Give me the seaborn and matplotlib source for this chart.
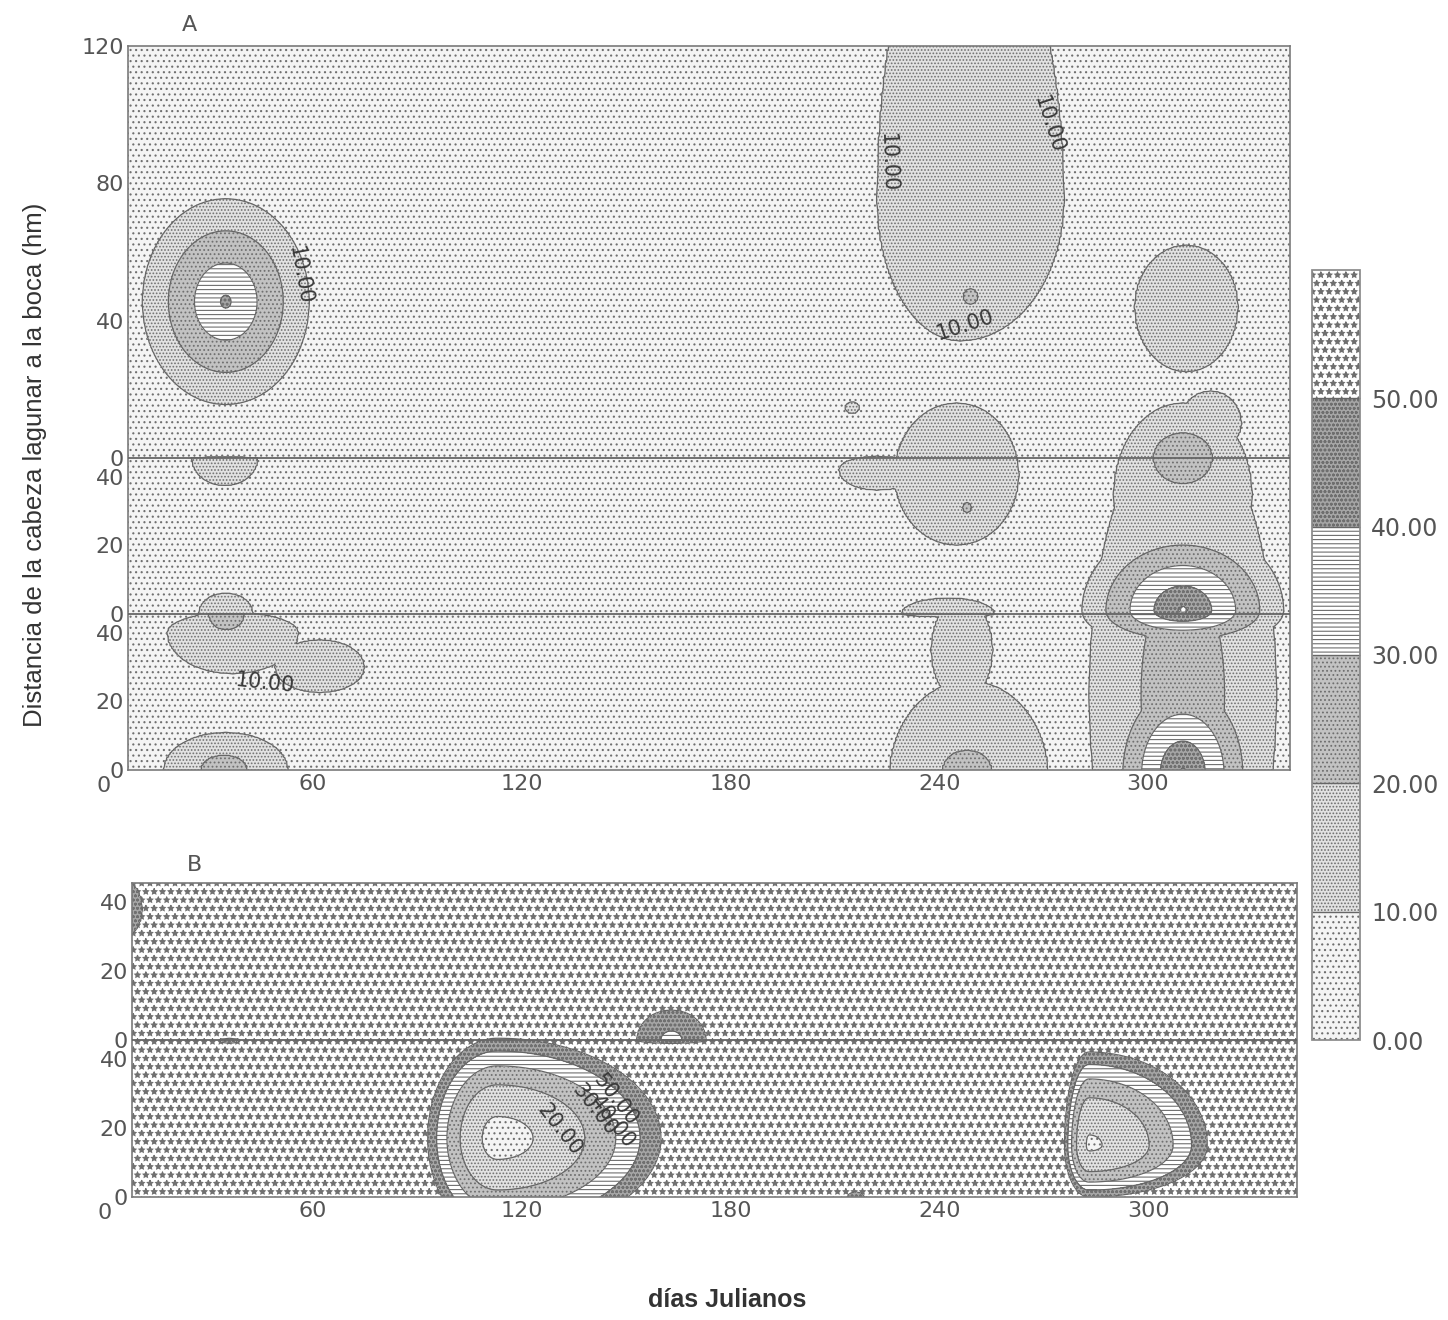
import numpy as np
import matplotlib
matplotlib.use("Agg")
import matplotlib.pyplot as plt
import seaborn as sns

# ---------------- data ----------------
levels = [0, 10, 20, 30, 40, 50, 60]
level_labels = ["0.00", "10.00", "20.00", "30.00", "40.00", "50.00"]
x_tick_days = [60, 120, 180, 240, 300]

# Panel A: three stacked layers (bottom, middle, top), extent in hm
a_layers = ["bottom", "middle", "top"]
a_depths = [45.5, 45.5, 120]
a_yticks_local = [[0, 20, 40], [0, 20, 40], [0, 40, 80, 120]]
a_background = 5

# Panel A features (local max): centre day, layer, centre hm, radii, peak value, edge value
a_day   = [35, 246, 249, 311, 215, 245, 222, 248, 310, 310, 318, 310, 310, 310, 34.7, 35, 35.2, 37, 62, 35, 34.5, 242.5, 246.5, 248.5, 248]
a_layer = ["top", "top", "top", "top", "top", "middle", "middle", "middle", "top", "middle", "top",
           "middle", "bottom", "bottom", "middle", "middle", "bottom", "bottom", "bottom", "bottom", "bottom",
           "middle", "bottom", "bottom", "bottom"]
a_hm    = [45.5, 75, 47, 44, 14.6, 40.5, 42, 31, 0, 35, 10, 1, 22, -1, 45.5, 0, 45.5, 40, 30, 0, 0, 0, 35, -2, 0]
a_rx_lo = [24, 24, 2.3, 15, 2.2, 18, 11, 1.5, 8.6, 20, 9, 29, 27, 22.6, 9.7, 8, 5.3, 19, 13, 18, 6.8, 13.5, 9, 23, 7.2]
a_rx_hi = [24, 30, 2.3, 15, 2.2, 18, 14, 1.5, 8.6, 20, 9, 29, 27, 22.6, 9.7, 8, 5.3, 19, 13, 18, 6.8, 13.5, 9, 23, 7.2]
a_ry_lo = [30, 41, 2.3, 19, 1.8, 20.5, 6, 1.5, 7.6, 40, 8, 11, 80, 33, 8.2, 5, 4.7, 12, 7.5, 11, 4.4, 1, 15, 28, 5.8]
a_ry_hi = [30, 90, 2.3, 18, 1.8, 21, 4, 1.5, 7.3, 26.5, 9.5, 25, 80, 33, 0.3, 6.1, 0.2, 6, 8, 11, 4.4, 4.7, 15, 28, 5.8]
a_peak  = [42, 15, 21, 14, 11, 16, 12, 21, 24, 17, 14, 52, 28, 52, 13, 13, 22, 14, 13, 15, 21, 13, 13, 14, 21]
a_edge  = [10, 10, 20, 10, 10, 10, 10, 20, 20, 10, 10, 10, 10, 10, 10, 10, 20, 10, 10, 10, 20, 10, 10, 10, 20]

# Panel B: two stacked layers
b_layers = ["bottom", "top"]
b_depths = [45.5, 45.5]
b_yticks_local = [[0, 20, 40], [0, 20, 40]]
b_background = 55

# Panel B features (local min)
b_day   = [6, 163, 36, 113, 283, 216]
b_layer = ["top", "top", "bottom", "bottom", "bottom", "bottom"]
b_hm    = [38, 0, 45.5, 17, 15, 0]
b_rx_lo = [5, 10, 3, 20, 7, 2.5]
b_rx_hi = [5, 10, 3, 47, 34, 2.5]
b_ry_lo = [8, 1, 1, 28, 15, 1]
b_ry_hi = [8, 8.7, 0.5, 29, 27, 1.5]
b_peak  = [45, 39, 44, 8, 9.5, 45]
b_edge  = [50, 50, 50, 50, 50, 50]

# contour-label texts (value, day, stacked hm, angle)
a_label_text = ["10.00", "10.00", "10.00", "10.00", "10.00"]
a_label_day  = [56.3, 225.3, 271.3, 247.4, 46.3]
a_label_hm   = [144.3, 177, 188, 129.7, 25.4]
a_label_rot  = [-80, -88, -72, 18, -6]
b_label_text = ["20.00", "30.00", "40.00", "50.00"]
b_label_day  = [131, 141, 146, 147]
b_label_hm   = [19.5, 25.4, 21.9, 28.3]
b_label_rot  = [-52, -52, -52, -52]

# ---------------- styling ----------------
sns.set_theme(style="white")
plt.rcParams["font.family"] = ["DejaVu Sans"]
plt.rcParams["patch.force_edgecolor"] = False
plt.rcParams["patch.edgecolor"] = "#6e6e6e"
plt.rcParams["hatch.color"] = "#707070"
plt.rcParams["hatch.linewidth"] = 0.8

fill_colors = ["#f4f4f4", "#e2e2e2", "#c2c2c2", "#ffffff", "#a6a6a6", "#ffffff"]
fill_hatches = ["...", ".....", "....", "----", "oooo", "**"]
tick_color = "#555555"


def build_field(xg, yg, bg, mode, q, offsets, days, layers, hms, rxl, rxh, ryl, ryh, peaks, edges):
    F = np.full(xg.shape, float(bg))
    for d, lay, h, a, b, c, e_, p, e in zip(days, layers, hms, rxl, rxh, ryl, ryh, peaks, edges):
        cy = offsets[lay] + h
        dx = xg - d
        dy = yg - cy
        rx = np.where(dx < 0, a, b)
        ry = np.where(dy < 0, c, e_)
        r = np.sqrt((dx / rx) ** 2 + (dy / ry) ** 2)
        inside = p + (e - p) * np.clip(r, 0, 1) ** q
        outside = e + np.sign(e - p) * 60 * (r - 1)
        v = np.where(r <= 1, inside, outside)
        F = np.maximum(F, v) if mode == "max" else np.minimum(F, v)
    return np.clip(F, 0.01, 59.99)


def offsets_of(names, depths):
    offs, acc = {}, 0.0
    for n, dpt in zip(names, depths):
        offs[n] = acc
        acc += dpt
    return offs, acc


fig = plt.figure(figsize=(14.48, 13.2), dpi=100)
axA = fig.add_axes([128 / 1448, 1 - 770 / 1320, 1162 / 1448, 724 / 1320])
axB = fig.add_axes([132 / 1448, 1 - 1197 / 1320, 1165 / 1448, 314 / 1320])
cax = fig.add_axes([1312 / 1448, 1 - 1040 / 1320, 48 / 1448, 770 / 1320])

xs = np.arange(0, 346, 0.5)

panels = [
    (axA, a_layers, a_depths, a_yticks_local, a_background, "max", 1.0,
     (a_day, a_layer, a_hm, a_rx_lo, a_rx_hi, a_ry_lo, a_ry_hi, a_peak, a_edge),
     (6.9, 340.8), (a_label_text, a_label_day, a_label_hm, a_label_rot), "A", (0.053, 1.029)),
    (axB, b_layers, b_depths, b_yticks_local, b_background, "min", 2.0,
     (b_day, b_layer, b_hm, b_rx_lo, b_rx_hi, b_ry_lo, b_ry_hi, b_peak, b_edge),
     (8.0, 342.8), (b_label_text, b_label_day, b_label_hm, b_label_rot), "B", (0.054, 1.057)),
]

csA = None
for ax, names, depths, yt_local, bg, mode, q, blobs, xlim, labs, tag, tagpos in panels:
    offs, total = offsets_of(names, depths)
    ys = np.arange(-2, total + 2, 0.25)
    X, Y = np.meshgrid(xs, ys)
    F = build_field(X, Y, bg, mode, q, offs, *blobs)
    cs = ax.contourf(X, Y, F, levels=levels, colors=fill_colors, hatches=fill_hatches)
    ax.contour(X, Y, F, levels=levels[1:-1], colors="#666666", linewidths=0.9)
    if csA is None:
        csA = cs
    ax.set_xlim(*xlim)
    ax.set_ylim(0, total)
    for n in names[1:]:
        ax.axhline(offs[n], color="#666666", lw=1.3, zorder=5)
    pos, lab = [], []
    for n, tl in zip(names, yt_local):
        for t in tl:
            pos.append(offs[n] + t)
            lab.append(str(t))
    ax.set_yticks(pos)
    ax.set_yticklabels(lab)
    ax.set_xticks(x_tick_days)
    ax.set_xticklabels([str(t) for t in x_tick_days])
    ax.tick_params(axis="both", length=0, labelsize=16, labelcolor=tick_color, pad=3)
    ax.annotate("0", xy=(0, 0), xycoords=("data", "axes fraction"), xytext=(0, -4),
                textcoords="offset points", ha="center", va="top", fontsize=16,
                color=tick_color, annotation_clip=False)
    for sp in ax.spines.values():
        sp.set_color("#7a7a7a")
        sp.set_linewidth(1.2)
    for t, d, h, r in zip(*labs):
        ax.text(d, h, t, rotation=r, ha="center", va="center", fontsize=15,
                color="#3a3a3a", zorder=6, rotation_mode="anchor")
    ax.text(tagpos[0], tagpos[1], tag, transform=ax.transAxes, fontsize=16, color=tick_color,
            ha="center", va="center")

cbar = fig.colorbar(csA, cax=cax, ticks=levels[:-1], drawedges=True)
cbar.ax.set_yticklabels(level_labels)
cbar.ax.tick_params(length=0, labelsize=17, labelcolor=tick_color, pad=8)
cbar.outline.set_edgecolor("#8a8a8a")
cbar.dividers.set_color("#666666")
cbar.dividers.set_linewidth(1.0)

fig.text(35 / 1448, 1 - 465 / 1320, "Distancia de la cabeza lagunar a la boca (hm)",
         rotation=90, ha="center", va="center", fontsize=18.5, color="#333333",
         family=["Liberation Sans", "DejaVu Sans"])
fig.text(727 / 1448, 1 - 1300 / 1320, "días Julianos", ha="center", va="center",
         fontsize=18, fontweight="bold", color="#333333",
         family=["Liberation Sans", "DejaVu Sans"])

fig.savefig("out.png", dpi=100, facecolor="white")
